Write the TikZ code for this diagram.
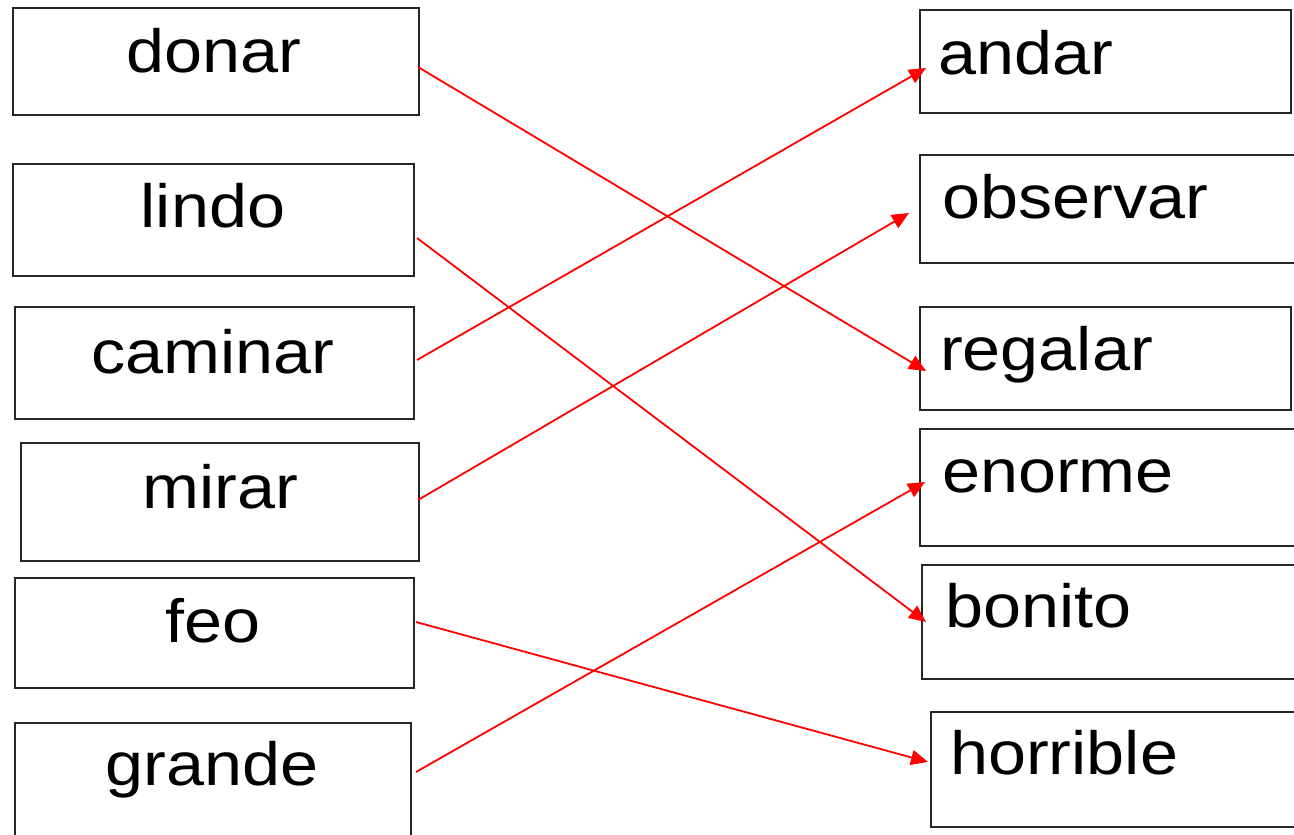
\documentclass[tikz,border=0pt]{standalone}
\usepackage{fontspec}
\setmainfont{Liberation Sans}
\usetikzlibrary{arrows.meta}
\newcommand{\sw}[1]{\scalebox{1.12}[1]{#1}}
\begin{document}
\begin{tikzpicture}[x=1pt,y=-1pt,
  box/.style={draw=black!85, line width=2pt, inner sep=0pt, outer sep=0pt, anchor=north west},
  word/.style={inner sep=0pt, font=\fontsize{61}{61}\selectfont},
  lword/.style={word, anchor=base},
  rword/.style={word, anchor=base west},
  link/.style={draw=red, line width=1.8pt, -{Triangle[length=17pt,width=15pt]}}]
\useasboundingbox (0,0) rectangle (1294,835);
\clip (0,0) rectangle (1294,835);
% left boxes
\node[box, minimum width=406pt, minimum height=107pt] (donar) at (13,8) {};
\node[box, minimum width=401pt, minimum height=112pt] (lindo) at (13,164) {};
\node[box, minimum width=399pt, minimum height=112pt] (caminar) at (15,307) {};
\node[box, minimum width=398pt, minimum height=118pt] (mirar) at (21,443) {};
\node[box, minimum width=399pt, minimum height=110pt] (feo) at (15,578) {};
\node[box, minimum width=396pt, minimum height=116pt] (grande) at (15,723) {};
% left texts
\node[lword] (tdonar) at (214,72) {\sw{donar}};
\node[lword] (tlindo) at (213,227) {\sw{lindo}};
\node[lword] (tcaminar) at (213,373) {\sw{caminar}};
\node[lword] (tmirar) at (220,508) {\sw{mirar}};
\node[lword] (tfeo) at (213,642) {\sw{feo}};
\node[lword] (tgrande) at (212,785) {\sw{grande}};
% right boxes
\node[box, minimum width=371pt, minimum height=103pt] (andar) at (920,10) {};
\node[box, minimum width=390pt, minimum height=108pt] (observar) at (920,155) {};
\node[box, minimum width=371pt, minimum height=103pt] (regalar) at (920,307) {};
\node[box, minimum width=390pt, minimum height=117pt] (enorme) at (920,429) {};
\node[box, minimum width=388pt, minimum height=114pt] (bonito) at (922,565) {};
\node[box, minimum width=379pt, minimum height=115pt] (horrible) at (931,712) {};
% right texts
\node[rword] (tandar) at (938,74) {\sw{andar}};
\node[rword] (tobservar) at (942,218) {\sw{observar}};
\node[rword] (tregalar) at (940,370) {\sw{regalar}};
\node[rword] (tenorme) at (942,492) {\sw{enorme}};
\node[rword] (tbonito) at (945,627) {\sw{bonito}};
\node[rword] (thorrible) at (950,774) {\sw{horrible}};
% connectors
\draw[link] ([xshift=-1pt,yshift=-5.5pt]donar.east) -- ([xshift=6pt,yshift=-12.5pt]regalar.west);
\draw[link] ([xshift=3pt,yshift=-18pt]lindo.east) -- ([xshift=4pt]bonito.west);
\draw[link] ([xshift=3pt,yshift=3pt]caminar.east) -- ([xshift=6pt,yshift=-6.5pt]andar.west);
\draw[link] ([xshift=-1pt,yshift=2pt]mirar.east) -- ([xshift=-11pt,yshift=-4pt]observar.west);
\draw[link] ([xshift=2pt,yshift=11pt]feo.east) -- ([xshift=-3pt,yshift=7.5pt]horrible.west);
\draw[link] ([xshift=5pt,yshift=9pt]grande.east) -- ([xshift=5pt,yshift=5.5pt]enorme.west);
\end{tikzpicture}
\end{document}
